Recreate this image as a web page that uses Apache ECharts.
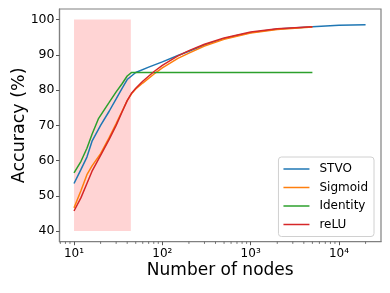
<!DOCTYPE html>
<html>
<head>
<meta charset="utf-8">
<script src="https://cdn.jsdelivr.net/npm/echarts@6/dist/echarts.min.js"></script>
<style>
html,body{margin:0;padding:0;background:#fff;}
#c{width:390px;height:293px;}
</style>
</head>
<body>
<div id="c"></div>
<script>
// ---- data ----
const seriesNames = ['STVO', 'Sigmoid', 'Identity', 'reLU'];
const stvoX = [10, 12, 14, 16, 20, 25, 30, 35, 40, 50, 70, 100, 150, 200, 300, 500, 700, 1000, 2000, 5000, 10000, 20000];
const stvoY = [53.5, 57.5, 61, 65.5, 70, 74, 77.5, 80.5, 83, 85, 86.5, 88, 89.8, 91, 92.8, 94.6, 95.5, 96.3, 97.3, 98, 98.4, 98.5];
const sigmoidX = [10, 12, 14, 16, 20, 25, 30, 35, 40, 45, 50, 60, 80, 100, 150, 200, 300, 500, 1000, 2000, 5000];
const sigmoidY = [46.6, 51.5, 56, 58.5, 62, 66.5, 70.5, 74, 77, 79, 80.3, 82, 84.5, 86.3, 89, 90.5, 92.5, 94.4, 96.2, 97.2, 97.9];
const identityX = [10, 12, 14, 16, 19, 25, 30, 35, 40, 45, 50, 100, 1000, 5000];
const identityY = [56.5, 59.8, 63.5, 67.5, 72, 76.5, 79.5, 81.8, 84, 85, 85, 85, 85, 85];
const reluX = [10, 12, 14, 16, 20, 25, 30, 35, 40, 45, 50, 60, 80, 100, 150, 200, 300, 500, 1000, 2000, 5000];
const reluY = [45.7, 49.5, 53.5, 57, 61.5, 66, 70, 73.8, 77, 79.2, 80.5, 82.5, 85.2, 87, 89.7, 91.2, 93, 94.8, 96.5, 97.4, 98];
const shadeX = [10, 44];
const shadeY = [40, 100];
const xMin = 6.85, xMax = 29900;
const yMin = 37, yMax = 103;

// ---- chart ----
const colors = ['#1f77b4', '#ff7f0e', '#2ca02c', '#d62728'];
const xs = [stvoX, sigmoidX, identityX, reluX];
const ys = [stvoY, sigmoidY, identityY, reluY];
const font = 'DejaVu Sans';
const sup = {'1':'¹','2':'²','3':'³','4':'⁴'};

// minor tick positions (2..9 x 10^n) inside the axis range
const minorTicks = [];
for (let e = 0; e <= 4; e++) {
  for (let k = 2; k <= 9; k++) {
    const v = k * Math.pow(10, e);
    if (v > xMin && v < xMax) minorTicks.push([v]);
  }
}

const series = seriesNames.map((n, i) => ({
  name: n,
  type: 'line',
  data: xs[i].map((x, j) => [x, ys[i][j]]),
  symbol: 'none',
  lineStyle: {width: 1.5, color: colors[i]},
  itemStyle: {color: colors[i]},
  z: 3,
  animation: false
}));
series.push({
  type: 'line',
  data: [],
  silent: true,
  z: 1,
  markArea: {
    silent: true,
    itemStyle: {color: 'rgba(255,0,0,0.17)'},
    data: [[{coord: [shadeX[0], shadeY[0]]}, {coord: [shadeX[1], shadeY[1]]}]]
  },
  animation: false
});
series.push({
  type: 'custom',
  data: minorTicks,
  silent: true,
  clip: false,
  z: 4,
  animation: false,
  renderItem: function (params, api) {
    const p = api.coord([api.value(0), yMin]);
    return {
      type: 'line',
      shape: {x1: p[0], y1: p[1], x2: p[0], y2: p[1] + 2.2},
      style: {stroke: '#555', lineWidth: 0.8}
    };
  }
});

const chart = echarts.init(document.getElementById('c'), null, {renderer: 'canvas'});
chart.setOption({
  animation: false,
  color: colors,
  grid: {left: 59.5, right: 9, top: 9, bottom: 51.3, show: true, borderColor: '#808080', borderWidth: 1.2, containLabel: false, outerBoundsMode: 'none'},
  xAxis: {
    type: 'log',
    logBase: 10,
    min: xMin,
    max: xMax,
    name: 'Number of nodes',
    nameLocation: 'middle',
    nameGap: 20,
    nameMoveOverlap: false,
    nameTextStyle: {fontFamily: font, fontSize: 17, color: '#000'},
    axisLine: {show: true, lineStyle: {color: '#808080', width: 1.2}},
    axisTick: {show: true, inside: false, length: 3.5, lineStyle: {color: '#555', width: 1}},
    splitLine: {show: false},
    minorTick: {show: false},
    axisLabel: {
      margin: 6,
      fontFamily: font,
      fontSize: 12,
      color: '#000',
      showMinLabel: false,
      showMaxLabel: false,
      formatter: function (v) {
        const e = Math.round(Math.log10(v));
        if (Math.abs(Math.pow(10, e) - v) > 1e-6 * v) return '';
        return '10' + (sup[String(e)] || e);
      }
    }
  },
  yAxis: {
    type: 'value',
    min: yMin,
    max: yMax,
    splitNumber: 6,
    name: 'Accuracy (%)',
    nameLocation: 'middle',
    nameGap: 31.5,
    nameMoveOverlap: false,
    nameTextStyle: {fontFamily: font, fontSize: 17.5, color: '#000'},
    axisLine: {show: true, lineStyle: {color: '#808080', width: 1.2}},
    axisTick: {show: true, inside: false, length: 3.5, lineStyle: {color: '#555', width: 1}},
    splitLine: {show: false},
    axisLabel: {
      margin: 5,
      fontFamily: font,
      fontSize: 12.5,
      color: '#000',
      showMinLabel: false,
      showMaxLabel: false,
      formatter: function (v) { return (v % 10 === 0) ? String(v) : ''; }
    }
  },
  legend: {
    data: seriesNames,
    orient: 'vertical',
    right: 16,
    top: 157,
    icon: 'rect',
    itemWidth: 26,
    itemHeight: 1.5,
    itemGap: 4.5,
    padding: [5, 6, 5, 5],
    backgroundColor: '#fff',
    borderColor: '#d0d0d0',
    borderWidth: 1,
    borderRadius: 3,
    textStyle: {fontFamily: font, fontSize: 12, color: '#000', padding: [0, 0, 0, 5], lineHeight: 14}
  },
  series: series
});
</script>
</body>
</html>
